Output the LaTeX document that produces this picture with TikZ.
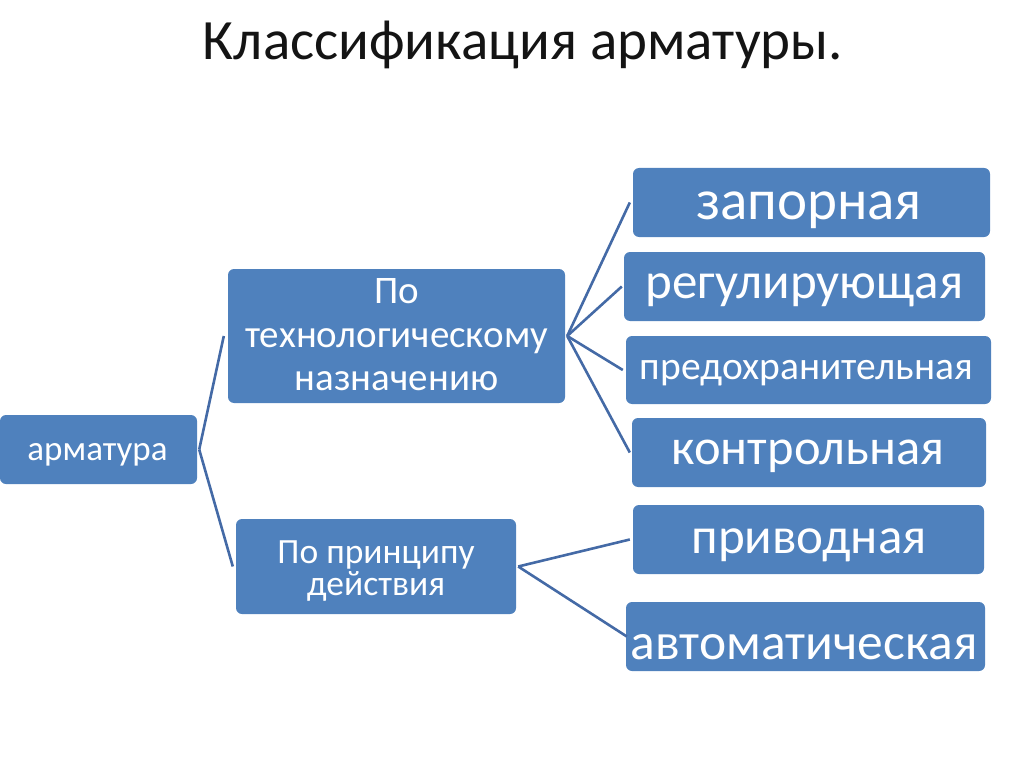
\documentclass[tikz,border=0pt]{standalone}
\usepackage{fontspec}
\setmainfont{Carlito}
\definecolor{boxblue}{RGB}{79,129,189}
\definecolor{lineblue}{RGB}{68,106,166}
\newcommand{\fs}[1]{\fontsize{#1}{#1}\selectfont}
\begin{document}
\begin{tikzpicture}[x=1pt,y=-1pt,
  box/.style={fill=boxblue, rounded corners=6pt, inner sep=0pt},
  lbl/.style={text=white, inner sep=0pt, anchor=base},
  conn/.style={draw=lineblue, line width=2.6pt}]
\useasboundingbox (0,0) rectangle (1024,767);
% title
\node[inner sep=0pt, anchor=base, text=black!92, font=\fs{57}] (title) at (523,60) {Классификация арматуры.};
% boxes
\node[box, minimum width=197pt, minimum height=69pt] (arm) at (98.5,449.5) {};
\node[box, minimum width=337pt, minimum height=134pt] (tech) at (396.5,336) {};
\node[box, minimum width=280pt, minimum height=95pt] (pr) at (376,566.5) {};
\node[box, minimum width=357pt, minimum height=69pt] (zap) at (811.5,202.5) {};
\node[box, minimum width=361pt, minimum height=69pt] (reg) at (804.5,286.5) {};
\node[box, minimum width=365pt, minimum height=68pt] (pred) at (808.5,370) {};
\node[box, minimum width=354pt, minimum height=69pt] (kon) at (809,452.5) {};
\node[box, minimum width=351pt, minimum height=69pt] (priv) at (808.5,539.5) {};
\node[box, minimum width=359pt, minimum height=69pt] (avt) at (805.5,636.5) {};
% labels
\node[lbl, font=\fs{35}] (armT) at (97.5,460) {арматура};
\node[lbl, font=\fs{39}] (techA) at (396.5,303) {По};
\node[lbl, font=\fs{39}] (techB) at (396.5,347) {технологическому};
\node[lbl, font=\fs{39}] (techC) at (396.5,390) {назначению};
\node[lbl, font=\fs{35.5}] (prA) at (376,563) {По принципу};
\node[lbl, font=\fs{35.5}] (prB) at (376,595) {действия};
\node[lbl, font=\fs{57}] (zapT) at (809,219) {запорная};
\node[lbl, font=\fs{51}] (regT) at (804.5,298) {регулирующая};
\node[lbl, font=\fs{39.5}] (predT) at (806.5,379) {предохранительная};
\node[lbl, font=\fs{50.5}] (konT) at (808,464) {контрольная};
\node[lbl, font=\fs{51}] (privT) at (809,553) {приводная};
\node[lbl, font=\fs{51.5}] (avtT) at (804,659) {автоматическая};
% connectors
\draw[conn] ([xshift=2pt]arm.east) -- ([xshift=-4pt]tech.west);
\draw[conn] ([xshift=2pt]arm.east) -- ([xshift=-3pt]pr.west);
\draw[conn] ([xshift=2pt]tech.east) -- ([xshift=-3pt]zap.west);
\draw[conn] ([xshift=2pt]tech.east) -- ([xshift=-2pt]reg.west);
\draw[conn] ([xshift=2pt]tech.east) -- ([xshift=-3pt]pred.west);
\draw[conn] ([xshift=2pt]tech.east) -- ([xshift=-2pt]kon.west);
\draw[conn] ([xshift=2pt]pr.east) -- ([xshift=-3pt]priv.west);
\draw[conn] ([xshift=2pt]pr.east) -- ([xshift=1pt]avt.west);
\end{tikzpicture}
\end{document}
